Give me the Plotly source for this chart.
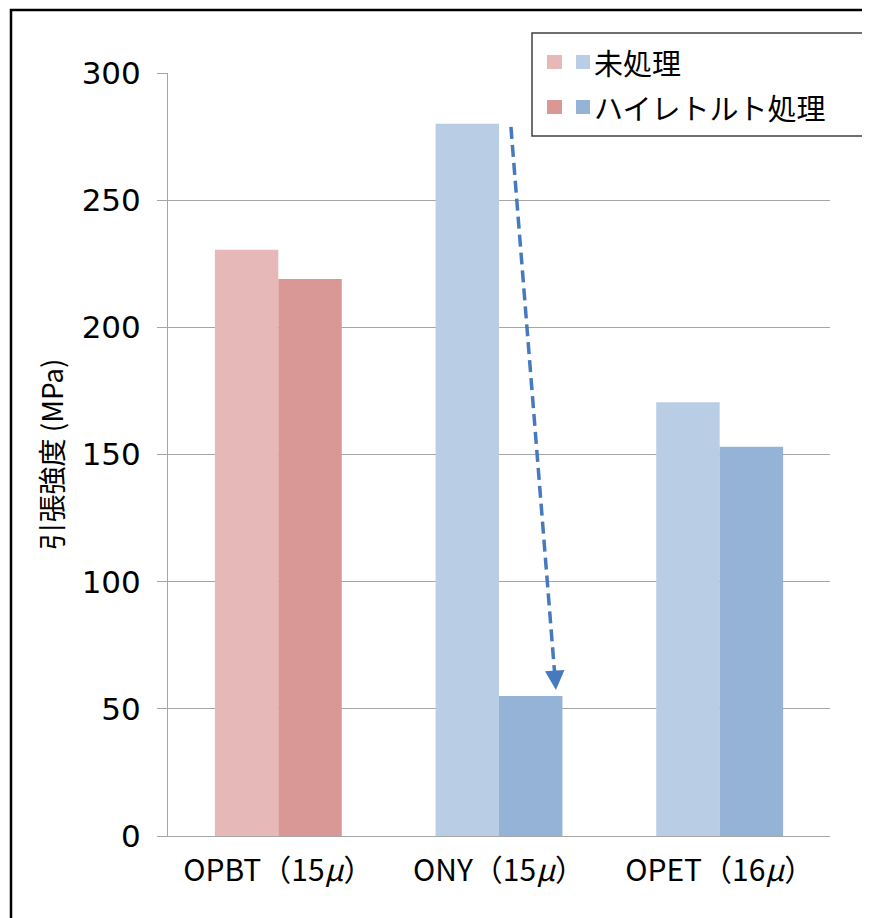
import plotly.graph_objects as go

categories = ["OPBT（15μ）", "ONY（15μ）", "OPET（16μ）"]
untreated = [230.5, 280, 170.5]
retort = [219, 55, 153]
series_names = ["未処理", "ハイレトルト処理"]
light_colors = ["#E6B9B8", "#B9CDE5", "#B9CDE5"]
dark_colors = ["#D99795", "#95B3D7", "#95B3D7"]
y_ticks = [0, 50, 100, 150, 200, 250, 300]
y_title = "引張強度 (MPa)"

OFF = 8  # page body margin
W, H = 870 - OFF, 918 - OFF
L, T = 168 - OFF, 73 - OFF
R = W - (830 - OFF)
B = H - (836 - OFF)
pw, ph = W - L - R, H - T - B

def px2paper(x, y):
    # x, y are reference-image pixel positions
    return (x - OFF - L) / pw, (H - B - (y - OFF)) / ph

fig = go.Figure()
fig.add_trace(go.Bar(x=categories, y=untreated, name=series_names[0],
                     marker=dict(color=light_colors, line=dict(width=0))))
fig.add_trace(go.Bar(x=categories, y=retort, name=series_names[1],
                     marker=dict(color=dark_colors, line=dict(width=0))))

shapes = []
# outer frame
x0, y0 = px2paper(11, 10)
x1, y1 = px2paper(890, 940)
shapes.append(dict(type="rect", xref="paper", yref="paper", x0=x0, y0=y1, x1=x1, y1=y0,
                   line=dict(color="#000000", width=2.5), fillcolor="rgba(0,0,0,0)", layer="above"))
# legend box
lx0, ly0 = px2paper(532, 33)
lx1, ly1 = px2paper(867, 136)
shapes.append(dict(type="rect", xref="paper", yref="paper", x0=lx0, y0=ly1, x1=lx1, y1=ly0,
                   line=dict(color="#404040", width=1.5), fillcolor="white", layer="above"))
annotations = []
rows = [(62, light_colors[0], light_colors[1], series_names[0]),
        (107, dark_colors[0], dark_colors[1], series_names[1])]
for cy, c1, c2, name in rows:
    for (sx0, sx1, c) in [(547, 562, c1), (576, 590, c2)]:
        a0, b0 = px2paper(sx0, cy - 7)
        a1, b1 = px2paper(sx1, cy + 7)
        shapes.append(dict(type="rect", xref="paper", yref="paper", x0=a0, y0=b1, x1=a1, y1=b0,
                           line=dict(width=0), fillcolor=c, layer="above"))
    tx, ty = px2paper(592, cy)
    annotations.append(dict(xref="paper", yref="paper", x=tx, y=ty, text=name, showarrow=False,
                            xanchor="left", yanchor="middle",
                            font=dict(family="Noto Sans CJK JP", size=29, color="#000000")))

# dashed arrow (ONY drop)
arrow_color = "#4679BD"
shapes.append(dict(type="line", xref="x", yref="y", x0=1.054, y0=278.8, x1=1.252, y1=64,
                   line=dict(color=arrow_color, width=3.5, dash="12px,6px"), layer="above"))
annotations.append(dict(xref="x", yref="y", axref="x", ayref="y", x=1.258, y=57.4,
                        ax=1.252, ay=66, text="", showarrow=True, arrowhead=2,
                        arrowsize=1.3, arrowwidth=3, arrowcolor=arrow_color))

fig.update_layout(
    width=W, height=H,
    margin=dict(l=L, r=R, t=T, b=B),
    paper_bgcolor="white", plot_bgcolor="white",
    barmode="group", bargap=0.425, bargroupgap=0,
    showlegend=False,
    shapes=shapes, annotations=annotations,
    font=dict(family="Noto Sans CJK JP", color="#000000"),
)
fig.update_yaxes(range=[0, 300], tickvals=y_ticks, showgrid=True, gridcolor="#A6A6A6", gridwidth=1,
                 showline=True, linecolor="#A6A6A6", linewidth=1, ticks="outside", ticklen=10,
                 tickcolor="#A6A6A6", zeroline=False,
                 tickfont=dict(family="DejaVu Sans", size=31, color="#000000"),
                 ticklabelstandoff=10,
                 title=dict(text=y_title, standoff=9,
                            font=dict(family="Noto Sans CJK JP", size=28, color="#000000")))
fig.update_xaxes(showline=True, linecolor="#A6A6A6", linewidth=1, ticks="",
                 tickvals=categories,
                 ticktext=[c.replace("μ", "<i>μ</i>") for c in categories],
                 tickfont=dict(family="Noto Sans CJK JP", size=30, color="#000000"),
                 ticklabelstandoff=8)

fig.write_html("out.html")
